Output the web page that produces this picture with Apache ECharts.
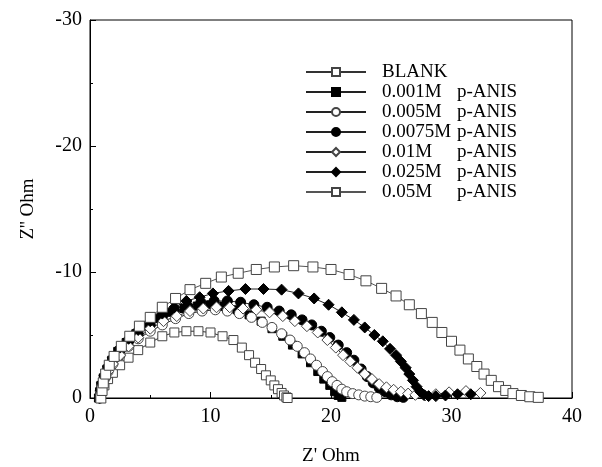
<!DOCTYPE html>
<html lang="en">
<head>
    <meta charset="UTF-8">
    <title>Nyquist p-ANIS</title>
    <script src="https://cdn.jsdelivr.net/npm/echarts@6/dist/echarts.min.js"></script>
    <style>
        html, body { margin: 0; padding: 0; background: #fff; }
    </style>
</head>
<body>
<div id="main" style="width: 602px;height: 467px;"></div>

<script type="text/javascript">
    // Z' (Ohm), Z'' (Ohm) pairs
    var blank = [[0.8,0],[0.9,-0.3],[1.0,-0.6],[1.2,-1.0],[1.5,-1.5],[1.9,-2.0],[2.5,-2.6],[3.2,-3.2],[4.0,-3.8],[5.0,-4.4],
        [6.0,-4.9],[7.0,-5.2],[8.0,-5.3],[9.0,-5.3],[10.0,-5.2],[11.0,-4.9],[11.9,-4.6],[12.6,-4.0],[13.2,-3.4],[13.7,-2.8],
        [14.2,-2.3],[14.6,-1.8],[15.0,-1.4],[15.3,-1.0],[15.6,-0.7],[15.9,-0.4],[16.1,-0.2],[16.3,-0.05],[16.4,0]];
    var c0010 = [[0.7,0],[0.8,-0.5],[0.9,-1.0],[1.1,-1.6],[1.4,-2.3],[1.8,-3.0],[2.3,-3.7],[3.0,-4.4],[3.8,-5.1],[4.7,-5.7],
        [5.7,-6.3],[6.7,-6.8],[7.8,-7.1],[8.9,-7.3],[10.0,-7.4],[11.1,-7.3],[12.2,-7.0],[13.2,-6.6],[14.2,-6.1],[15.1,-5.5],
        [16.0,-4.9],[16.8,-4.2],[17.6,-3.5],[18.3,-2.8],[18.9,-2.1],[19.4,-1.5],[19.9,-1.0],[20.3,-0.5],[20.6,-0.2],[20.9,-0.05]];
    var c0050 = [[0.8,0],[0.9,-0.5],[1.0,-1.0],[1.2,-1.5],[1.5,-2.1],[1.9,-2.7],[2.5,-3.4],[3.2,-4.1],[4.0,-4.7],[5.0,-5.3],
        [6.0,-5.8],[7.1,-6.3],[8.2,-6.7],[9.3,-6.9],[10.4,-7.0],[11.4,-6.9],[12.4,-6.7],[13.4,-6.4],[14.3,-6.0],[15.1,-5.6],
        [15.9,-5.1],[16.6,-4.6],[17.2,-4.1],[17.8,-3.6],[18.3,-3.1],[18.8,-2.6],[19.3,-2.1],[19.7,-1.7],[20.1,-1.3],[20.5,-1.0],
        [20.9,-0.7],[21.3,-0.5],[21.8,-0.35],[22.3,-0.25],[22.8,-0.15],[23.3,-0.1],[23.8,-0.05]];
    var c0075 = [[0.8,0],[0.9,-0.6],[1.0,-1.1],[1.2,-1.7],[1.5,-2.4],[1.9,-3.1],[2.5,-3.8],[3.2,-4.5],[4.0,-5.1],[5.0,-5.8],
        [6.0,-6.4],[7.0,-6.9],[8.1,-7.3],[9.2,-7.6],[10.3,-7.7],[11.4,-7.7],[12.5,-7.6],[13.6,-7.4],[14.7,-7.2],[15.7,-6.9],
        [16.7,-6.6],[17.6,-6.2],[18.4,-5.8],[19.2,-5.3],[19.9,-4.8],[20.6,-4.2],[21.3,-3.6],[21.9,-3.0],[22.5,-2.3],[23.0,-1.7],
        [23.5,-1.2],[24.0,-0.8],[24.5,-0.5],[25.0,-0.25],[25.5,-0.1],[26.0,-0.05]];
    var c0100 = [[0.8,0],[0.9,-0.5],[1.0,-1.0],[1.2,-1.5],[1.5,-2.1],[1.9,-2.7],[2.5,-3.4],[3.2,-4.1],[4.0,-4.8],[5.0,-5.5],
        [6.1,-6.1],[7.2,-6.5],[8.3,-6.9],[9.4,-7.1],[10.5,-7.2],[11.6,-7.2],[12.7,-7.1],[13.8,-7.0],[14.9,-6.8],[16.0,-6.5],
        [17.0,-6.1],[18.0,-5.7],[18.9,-5.2],[19.7,-4.6],[20.4,-4.0],[21.0,-3.4],[21.6,-2.9],[22.2,-2.4],[22.8,-1.9],[23.4,-1.5],
        [24.0,-1.1],[24.6,-0.85],[25.2,-0.65],[25.8,-0.5],[26.4,-0.35],[27.0,-0.25],[27.8,-0.2],[28.7,-0.3],[29.8,-0.45],[31.2,-0.55],[32.4,-0.4]];
    var c0250 = [[0.8,0],[0.9,-0.6],[1.0,-1.2],[1.2,-1.8],[1.5,-2.5],[1.9,-3.2],[2.5,-4.0],[3.2,-4.7],[4.0,-5.4],[5.0,-6.1],
        [6.0,-6.7],[7.0,-7.2],[8.0,-7.7],[9.1,-8.0],[10.2,-8.3],[11.5,-8.5],[12.9,-8.65],[14.4,-8.65],[15.9,-8.6],[17.3,-8.3],
        [18.6,-7.9],[19.8,-7.4],[20.9,-6.8],[21.9,-6.2],[22.8,-5.6],[23.6,-5.0],[24.3,-4.5],[24.9,-3.9],[25.4,-3.4],[25.8,-2.9],
        [26.2,-2.4],[26.5,-1.9],[26.8,-1.4],[27.1,-0.9],[27.4,-0.5],[27.7,-0.25],[28.1,-0.15],[28.7,-0.15],[29.5,-0.2],[30.5,-0.3],[31.6,-0.3]];
    var c0500 = [[0.9,0],[1.0,-0.6],[1.1,-1.2],[1.3,-1.9],[1.6,-2.6],[2.0,-3.3],[2.6,-4.1],[3.3,-4.9],[4.1,-5.7],[5.0,-6.4],
        [6.0,-7.2],[7.1,-7.9],[8.3,-8.6],[9.6,-9.1],[10.9,-9.6],[12.3,-9.9],[13.8,-10.2],[15.3,-10.4],[16.9,-10.5],[18.5,-10.4],
        [20.0,-10.2],[21.5,-9.8],[22.9,-9.3],[24.2,-8.7],[25.4,-8.1],[26.5,-7.4],[27.5,-6.7],[28.4,-6.0],[29.2,-5.2],[30.0,-4.5],
        [30.7,-3.8],[31.4,-3.1],[32.1,-2.5],[32.7,-1.9],[33.3,-1.4],[33.9,-0.9],[34.5,-0.6],[35.1,-0.35],[35.8,-0.2],[36.5,-0.1],[37.2,-0.05]];

    var names = ['BLANK', '0.001M p-ANIS', '0.005M p-ANIS', '0.0075M p-ANIS', '0.01M p-ANIS', '0.025M p-ANIS', '0.05M p-ANIS'];
    var xTicks = [0, 10, 20, 30, 40];
    var yTicks = [-30, -20, -10, 0];

    var myChart = echarts.init(document.getElementById('main'));
    var font = 'Liberation Serif, Times New Roman, serif';

    // one helper for the marker style
    function makeSeries(name, data, symbol, size, filled, lineColor) {
        return {
            name: name,
            type: 'line',
            data: data,
            symbol: symbol,
            symbolSize: size,
            showSymbol: true,
            lineStyle: {color: lineColor || '#222', width: 1},
            itemStyle: {
                color: filled ? '#000' : '#fff',
                borderColor: filled ? '#000' : '#444',
                borderWidth: 1
            },
            emphasis: {disabled: true}
        };
    }

    var option = {
        animation: false,
        backgroundColor: '#fff',
        grid: {
            left: 90, right: 30, top: 20, bottom: 69,
            outerBoundsMode: 'none',
            show: true, borderColor: '#000', borderWidth: 1
        },
        legend: {
            orient: 'vertical',
            left: 300,
            top: 57,
            itemWidth: 60,
            itemHeight: 10,
            itemGap: 0,
            data: names,
            formatter: function (name) {
                var i = name.indexOf(' ');
                if (i < 0) return '{a|' + name + '}';
                return '{a|' + name.slice(0, i) + '}{b|' + name.slice(i + 1) + '}';
            },
            textStyle: {
                fontFamily: font, fontSize: 19, color: '#000', lineHeight: 20,
                rich: {
                    a: {fontFamily: font, fontSize: 19, width: 75, padding: [0, 0, 0, 11], lineHeight: 20},
                    b: {fontFamily: font, fontSize: 19, lineHeight: 20}
                }
            }
        },
        xAxis: {
            type: 'value',
            min: xTicks[0], max: xTicks[xTicks.length - 1], interval: 10,
            name: "Z' Ohm",
            nameLocation: 'middle',
            nameGap: 49,
            nameTextStyle: {fontFamily: font, fontSize: 19, color: '#000'},
            axisLine: {lineStyle: {color: '#000', width: 1}},
            axisTick: {inside: true, length: 6, lineStyle: {color: '#000'}},
            minorTick: {show: true, splitNumber: 2, length: 3, lineStyle: {color: '#000'}},
            axisLabel: {fontFamily: font, fontSize: 20, color: '#000', margin: 9},
            splitLine: {show: false}
        },
        yAxis: {
            type: 'value',
            min: yTicks[0], max: yTicks[yTicks.length - 1], interval: 10,
            inverse: true,
            name: "Z'' Ohm",
            nameLocation: 'middle',
            nameGap: 52,
            nameTextStyle: {fontFamily: font, fontSize: 19, color: '#000'},
            axisLine: {lineStyle: {color: '#000', width: 1}},
            axisTick: {inside: true, length: 6, lineStyle: {color: '#000'}},
            minorTick: {show: true, splitNumber: 2, length: 3, lineStyle: {color: '#000'}},
            axisLabel: {fontFamily: font, fontSize: 20, color: '#000', margin: 8},
            splitLine: {show: false}
        },
        series: [
            makeSeries(names[0], blank, 'rect', 9, false, '#333'),
            makeSeries(names[1], c0010, 'rect', 8, true),
            makeSeries(names[2], c0050, 'circle', 10, false),
            makeSeries(names[3], c0075, 'circle', 10, true),
            makeSeries(names[4], c0100, 'diamond', 11, false),
            makeSeries(names[5], c0250, 'diamond', 11, true),
            makeSeries(names[6], c0500, 'rect', 10, false, '#555')
        ]
    };

    myChart.setOption(option);
</script>
</body>
</html>
